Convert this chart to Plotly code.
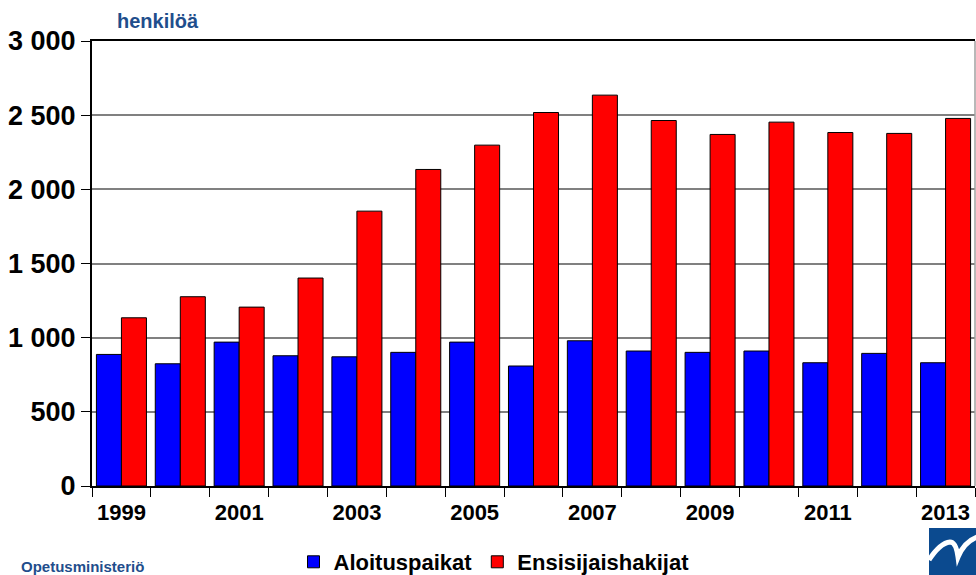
import plotly.graph_objects as go

years = list(range(1999, 2014))
aloituspaikat = [887, 824, 970, 878, 871, 901, 970, 809, 979, 910, 901, 910, 831, 894, 831]
ensisijaishakijat = [1134, 1276, 1206, 1402, 1853, 2134, 2298, 2518, 2635, 2464, 2370, 2453, 2383, 2377, 2478]
ytick_vals = [0, 500, 1000, 1500, 2000, 2500, 3000]
ytick_text = ["0", "500", "1 000", "1 500", "2 000", "2 500", "3 000"]
xtick_years = [1999, 2001, 2003, 2005, 2007, 2009, 2011, 2013]

FONT = "Liberation Sans, Arial, sans-serif"
W, H = 976, 575
L, R, T, B = 92, 1, 41, 89
pw, ph = W - L - R, H - T - B

def px(x):
    return (x - L) / pw

def py(y):
    return (H - B - y) / ph

fig = go.Figure()
fig.add_bar(x=years, y=aloituspaikat, name="<b>Aloituspaikat</b>",
            marker=dict(color="#0000FF", line=dict(color="#000000", width=1)))
fig.add_bar(x=years, y=ensisijaishakijat, name="<b>Ensisijaishakijat</b>",
            marker=dict(color="#FF0000", line=dict(color="#000000", width=1)))

boundaries = [y - 0.5 for y in years] + [years[-1] + 0.5]

fig.update_layout(
    width=W, height=H,
    margin=dict(l=L, r=R, t=T, b=B, autoexpand=False),
    paper_bgcolor="white", plot_bgcolor="white",
    barmode="group", bargap=0.15, bargroupgap=0,
    font=dict(family=FONT, color="black"),
    showlegend=True,
    legend=dict(orientation="h", x=px(494), xanchor="center", y=py(562), yanchor="middle",
                font=dict(size=22, family=FONT, color="black"), itemwidth=30,
                traceorder="normal", bgcolor="rgba(0,0,0,0)"),
    xaxis=dict(range=[1998.5, 2013.5], tickvals=xtick_years, ticktext=[f"<b>{y}</b>" for y in xtick_years],
               ticks="", tickfont=dict(size=22, family=FONT, color="black"), automargin=False,
               ticklabelstandoff=6,
               showline=True, linecolor="black", linewidth=2, mirror=True,
               showgrid=False, zeroline=False,
               minor=dict(tickvals=boundaries, ticks="outside", ticklen=9, tickcolor="black", tickwidth=1, showgrid=False)),
    yaxis=dict(range=[0, 3000], tickvals=ytick_vals, ticktext=[f"<b>{t}</b>" for t in ytick_text],
               ticks="outside", ticklen=9, tickcolor="black", tickwidth=1, automargin=False,
               tickfont=dict(size=27, family=FONT, color="black"),
               showline=True, linecolor="black", linewidth=2,
               showgrid=True, gridcolor="#808080", gridwidth=1.5, zeroline=False),
)

# right border
fig.add_shape(type="line", xref="paper", yref="paper", x0=1, x1=1, y0=0, y1=1,
              line=dict(color="#A0A0A0", width=1.5))

fig.add_annotation(text="<b>henkilöä</b>", xref="paper", yref="paper", x=px(115), y=py(21),
                   xanchor="left", yanchor="middle", showarrow=False,
                   font=dict(size=20, family=FONT, color="#1F4E8C"))
fig.add_annotation(text="<b>Opetusministeriö</b>", xref="paper", yref="paper", x=px(19), y=py(556),
                   xanchor="left", yanchor="top", showarrow=False,
                   font=dict(size=15, family=FONT, color="#1F4E8C"))

# logo
fig.add_shape(type="rect", xref="paper", yref="paper", x0=px(929), x1=px(977), y0=py(528), y1=py(576),
              fillcolor="#0B4A8F", line=dict(width=0))
path = (f"M {px(929)},{py(560)} Q {px(940)},{py(543)} {px(950)},{py(542)} "
        f"Q {px(956)},{py(542)} {px(958)},{py(557)} Q {px(964)},{py(542)} {px(977)},{py(537)}")
fig.add_shape(type="path", xref="paper", yref="paper", path=path,
              line=dict(color="white", width=5))

fig.write_html("out.html", config={"displayModeBar": False},
               post_script="document.body.style.margin='0';document.body.style.overflow='hidden';")
